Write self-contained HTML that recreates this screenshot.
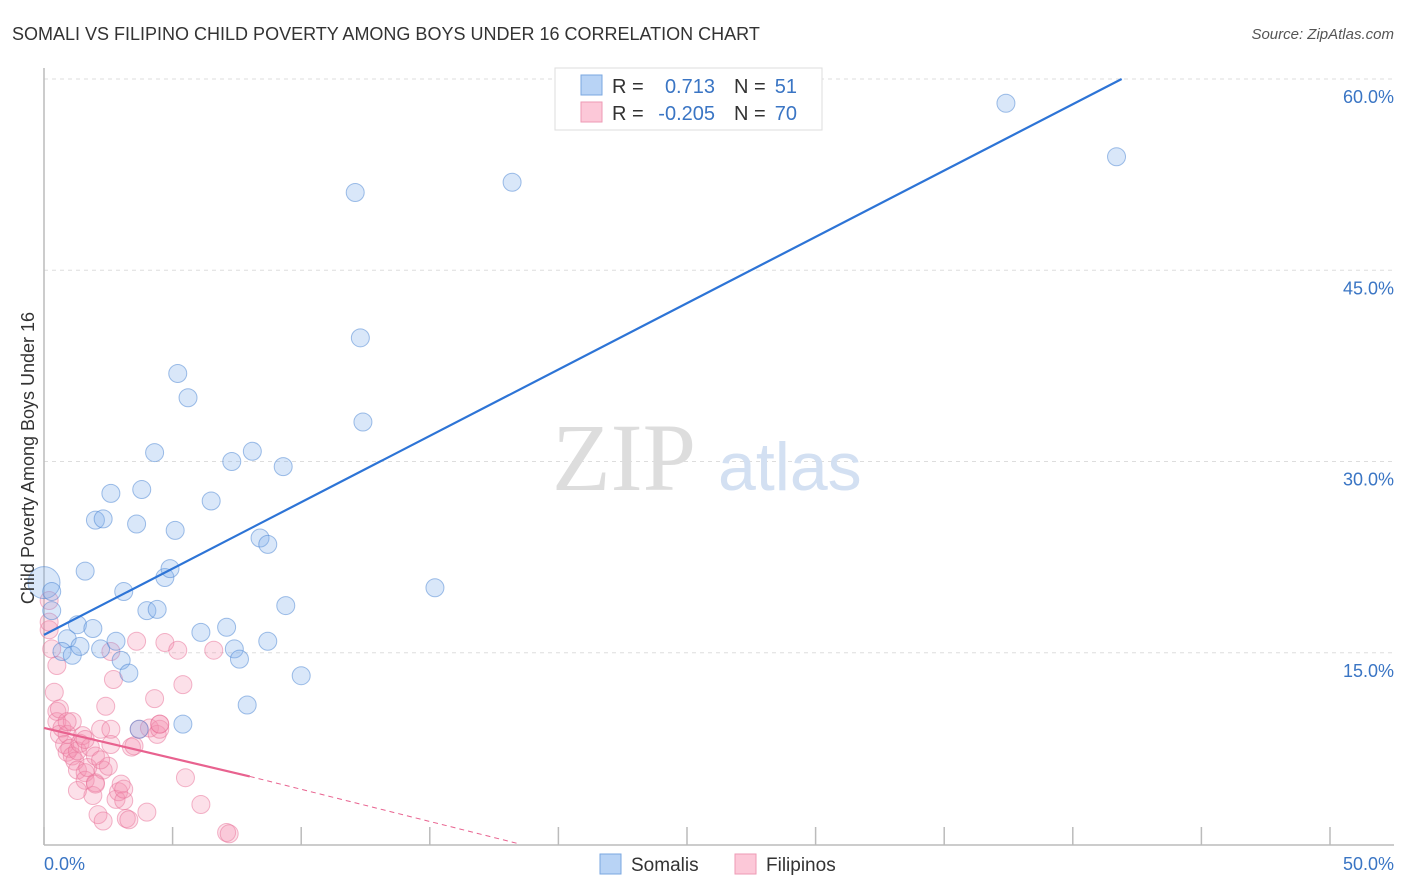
<!DOCTYPE html>
<html><head><meta charset="utf-8">
<style>
body{margin:0;background:#fff;font-family:"Liberation Sans",sans-serif;}
svg{display:block}
</style></head>
<body>
<svg id="chart" width="1406" height="892" xmlns="http://www.w3.org/2000/svg">
<text x="12" y="40" font-size="18" fill="#333">SOMALI VS FILIPINO CHILD POVERTY AMONG BOYS UNDER 16 CORRELATION CHART</text>
<text x="1394" y="39" font-size="15" fill="#555" text-anchor="end" font-style="italic">Source: ZipAtlas.com</text>
<g id="grid"></g>
<g>
<text x="552" y="490" font-size="96" font-family="Liberation Serif,serif" fill="#ddd">ZIP</text>
<text x="718" y="490" font-size="68" fill="#d3e0f2">atlas</text>
</g>
<g id="axes"></g>
<g id="pinkpts"></g>
<g id="bluepts"></g>
<g id="lines"></g>
<text transform="translate(34,458) rotate(-90)" font-size="18" fill="#333" text-anchor="middle">Child Poverty Among Boys Under 16</text>
<text x="44" y="870" font-size="18" fill="#3a75c4">0.0%</text>
<text x="1394" y="870" font-size="18" fill="#3a75c4" text-anchor="end">50.0%</text>
<g>
<rect x="555" y="68" width="267" height="62" fill="#fff" stroke="#ddd"/>
<rect x="581" y="75" width="21" height="20" fill="#b8d3f5" stroke="#7aa7e0"/>
<rect x="581" y="102" width="21" height="20" fill="#fcc8d8" stroke="#ee9ab4"/>
<text x="612" y="93" font-size="20" fill="#333">R =</text>
<text x="715" y="93" font-size="20" fill="#3a75c4" text-anchor="end">0.713</text>
<text x="734" y="93" font-size="20" fill="#333">N =</text>
<text x="797" y="93" font-size="20" fill="#3a75c4" text-anchor="end">51</text>
<text x="612" y="120" font-size="20" fill="#333">R =</text>
<text x="715" y="120" font-size="20" fill="#3a75c4" text-anchor="end">-0.205</text>
<text x="734" y="120" font-size="20" fill="#333">N =</text>
<text x="797" y="120" font-size="20" fill="#3a75c4" text-anchor="end">70</text>
</g>
<g>
<rect x="600" y="854" width="21" height="20" fill="#b8d3f5" stroke="#7aa7e0"/>
<text x="631" y="871" font-size="19" fill="#333">Somalis</text>
<rect x="735" y="854" width="21" height="20" fill="#fcc8d8" stroke="#ee9ab4"/>
<text x="766" y="871" font-size="19" fill="#333">Filipinos</text>
</g>
</svg>
<script>
const yTicks=[15,30,45,60];
const xTicks=[0,5,10,15,20,25,30,35,40,45,50];
const somaliX=[0,0.3,0.3,0.9,0.7,1.1,1.4,1.3,1.6,1.9,2.0,2.3,2.2,2.6,2.8,3.0,3.1,3.3,3.6,3.8,4.0,4.3,4.4,4.7,4.9,5.1,5.2,5.6,6.1,6.5,7.1,7.3,7.4,7.6,7.9,8.1,8.4,8.7,8.7,9.3,9.4,10.0,3.7,5.4,12.1,12.3,12.4,15.2,18.2,37.4,41.7];
const somaliY=[20.5,19.8,18.3,16.1,15.1,14.8,15.5,17.2,21.4,16.9,25.4,25.5,15.3,27.5,15.9,14.4,19.8,13.4,25.1,27.8,18.3,30.7,18.4,20.9,21.6,24.6,36.9,35.0,16.6,26.9,17.0,30.0,15.3,14.5,10.9,30.8,24.0,23.5,15.9,29.6,18.7,13.2,9.0,9.4,51.1,39.7,33.1,20.1,51.9,58.1,53.9];
const filipinoX=[0.2,0.2,0.3,0.4,0.5,0.5,0.6,0.7,0.8,0.9,0.9,1.0,1.1,1.2,1.3,1.3,1.4,1.5,1.6,1.6,1.7,1.8,1.9,2.0,2.0,2.1,2.2,2.3,2.3,2.4,2.5,2.6,2.6,2.7,2.8,2.9,3.0,3.1,3.1,3.2,3.3,3.4,3.5,3.6,3.7,4.0,4.1,4.3,4.4,4.5,4.5,4.7,5.2,5.4,5.5,6.1,6.6,7.1,7.2,0.5,0.2,0.6,1.1,1.6,0.9,1.3,2.2,2.6,2.0,4.5];
const filipinoY=[19.1,16.8,15.3,11.9,10.4,9.6,8.6,9.1,7.8,7.2,8.6,7.5,6.9,6.5,5.8,7.3,7.9,8.5,5.6,5.0,6.0,7.6,3.8,4.8,6.9,2.3,9.0,1.8,5.8,10.8,6.1,9.0,15.1,12.9,3.5,4.1,4.7,3.4,4.3,2.0,1.9,7.6,7.7,15.9,9.0,2.5,9.1,11.4,8.6,9.0,9.4,15.8,15.2,12.5,5.2,3.1,15.2,0.9,0.8,14.0,17.4,10.6,9.6,8.2,9.6,4.2,6.6,7.8,4.7,9.4];
const blueLine=[[0,16.4],[41.9,60]];
const pinkLine=[[0,9.1],[8.0,5.3],[18.5,0]];
const X=v=>44+v*25.72, Y=v=>844-v*12.75;
const NS="http://www.w3.org/2000/svg";
function mk(t,a,p){const e=document.createElementNS(NS,t);for(const k in a)e.setAttribute(k,a[k]);p.appendChild(e);return e;}
const grid=document.getElementById('grid');
yTicks.forEach(v=>{
 const l=mk('line',{x1:44,x2:1394,y1:Y(v),y2:Y(v),stroke:'#ddd','stroke-dasharray':'4,4'},grid);
 
 
 const t=mk('text',{x:1394,y:Y(v)+24,'font-size':18,fill:'#3a75c4','text-anchor':'end'},grid);
 t.textContent=v.toFixed(1)+'%';
 
 
});
mk('line',{x1:44,x2:1394,y1:79,y2:79,stroke:'#ddd','stroke-dasharray':'4,4'},grid);
const axes=document.getElementById('axes');
mk('line',{x1:44,x2:44,y1:68,y2:845,stroke:'#bbb','stroke-width':1.5},axes);
mk('line',{x1:44,x2:1394,y1:845,y2:845,stroke:'#bbb','stroke-width':1.5},axes);
xTicks.forEach(v=>{
 const t=mk('line',{x1:X(v),x2:X(v),y1:827,y2:845,stroke:'#bbb','stroke-width':1.5},axes);
 
 
});
const pp=document.getElementById('pinkpts');
filipinoX.forEach((x,i)=>{
 const c=mk('circle',{cx:X(x),cy:Y(filipinoY[i]),r:9,fill:'rgba(244,143,177,0.28)',stroke:'rgba(232,110,150,0.5)','stroke-width':1},pp);
 
 
});
const bp=document.getElementById('bluepts');
somaliX.forEach((x,i)=>{
 const c=mk('circle',{cx:X(x),cy:Y(somaliY[i]),r:i==0?16:9,fill:'rgba(130,175,235,0.3)',stroke:'rgba(70,130,210,0.5)','stroke-width':1},bp);
 
 
});
const ln=document.getElementById('lines');
const b=mk('line',{x1:X(blueLine[0][0]),y1:Y(blueLine[0][1]),x2:X(blueLine[1][0]),y2:Y(blueLine[1][1]),stroke:'#2d74d6','stroke-width':2.2},ln);


const p1=mk('line',{x1:X(pinkLine[0][0]),y1:Y(pinkLine[0][1]),x2:X(pinkLine[1][0]),y2:Y(pinkLine[1][1]),stroke:'#e8628f','stroke-width':2.2},ln);


const p2=mk('line',{x1:X(pinkLine[1][0]),y1:Y(pinkLine[1][1]),x2:X(pinkLine[2][0]),y2:Y(pinkLine[2][1]),stroke:'#e8628f','stroke-width':1,'stroke-dasharray':'5,4'},ln);


</script>
</body></html>
